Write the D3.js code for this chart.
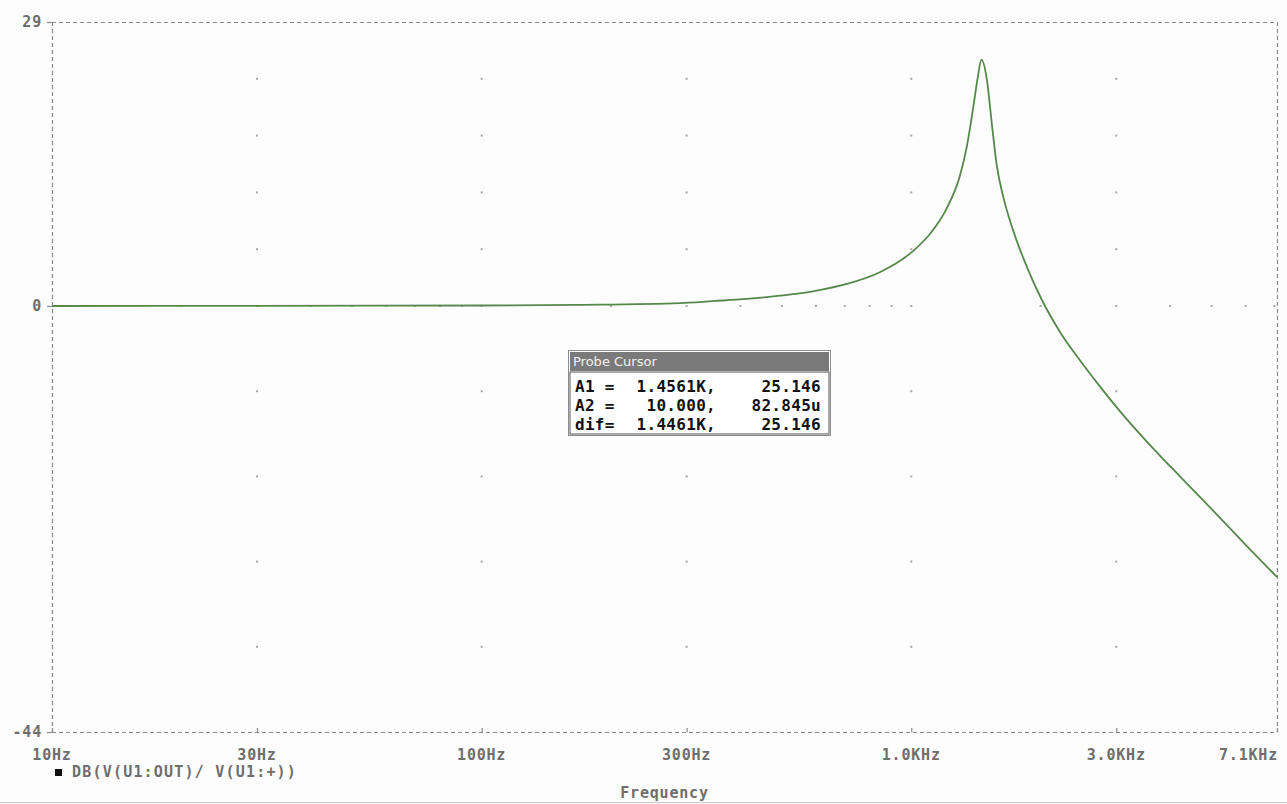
<!DOCTYPE html>
<html>
<head>
<meta charset="utf-8">
<script src="https://cdn.jsdelivr.net/npm/d3@7"></script>
<style>
  body { margin: 0; background: #fdfdfd; }
  svg { display: block; }
</style>
</head>
<body>
<svg id="chart" width="1287" height="804"></svg>
<script>
// trace values
const freqHz = [10, 30, 100, 170, 290, 345, 414, 495, 590, 708, 845, 1009, 1105, 1210, 1298,
  1347, 1391, 1429, 1456, 1500, 1540, 1582, 1634, 1724, 1858, 2014, 2217,
  2469, 2748, 3058, 3534, 4219, 5034, 6040, 7100];
const gainDb = [0, 0.02, 0.05, 0.12, 0.3, 0.5, 0.72, 1.05, 1.5, 2.25, 3.45, 5.6, 7.35, 10.0, 13.3,
  16.3, 20.0, 23.4, 25.146, 23.1, 18.6, 14.3, 11.3, 7.8, 4.0, 0.61, -2.65,
  -5.6, -8.3, -10.85, -14.0, -17.6, -21.1, -24.8, -28.0];

const xTickValues = [10, 30, 100, 300, 1000, 3000, 7100];
const xTickLabels = ['10Hz', '30Hz', '100Hz', '300Hz', '1.0KHz', '3.0KHz', '7.1KHz'];
const yTickValues = [29, 0, -44];
const yTickLabels = ['29', '0', '-44'];
const yGridDb = [23.2, 17.4, 11.6, 5.8, 0, -8.8, -17.6, -26.4, -35.2];
const minorFreqs = [20, 40, 50, 60, 70, 80, 90, 200, 400, 500, 600, 700, 800, 900, 2000, 4000, 5000, 6000, 7000];

const traceName = 'DB(V(U1:OUT)/ V(U1:+))';
const xTitle = 'Frequency';
const cursorTitle = 'Probe Cursor';
const cursorRows = [
  ['A1 =', '1.4561K,', '25.146'],
  ['A2 =', '10.000,', '82.845u'],
  ['dif=', '1.4461K,', '25.146']
];

const plotLeft = 52, plotRight = 1277, plotTop = 22, plotBottom = 732;
const axisGray = '#8a8a8a';
const labelGray = '#6e6e6e';
const traceColor = '#56884c';
const mono = '"DejaVu Sans Mono", "Liberation Mono", monospace';

const svg = d3.select('#chart');

const x = d3.scaleLog()
  .domain([10, 7100])
  .range([plotLeft, plotRight]);

// the plot puts 0 dB a bit off the straight line between the end labels
const y = d3.scaleLinear()
  .domain([-44, 0, 29])
  .range([plotBottom, 306, plotTop]);

svg.append('rect')
  .attr('width', 1287).attr('height', 804)
  .attr('fill', '#fdfdfd');

// grid dots
const dots = svg.append('g').attr('fill', '#a8a8a8');
xTickValues.slice(1, -1).forEach(f => {
  yGridDb.forEach(v => {
    dots.append('rect')
      .attr('x', x(f) - 1).attr('y', y(v) - 1)
      .attr('width', 2).attr('height', 2);
  });
});
minorFreqs.forEach(f => {
  dots.append('rect')
    .attr('x', x(f) - 1).attr('y', y(0) - 1)
    .attr('width', 2).attr('height', 2);
});

// dashed frame
const frame = svg.append('g')
  .attr('stroke', axisGray)
  .attr('stroke-width', 1.2)
  .attr('stroke-dasharray', '4,3')
  .attr('fill', 'none');
frame.append('line').attr('x1', plotLeft).attr('x2', plotRight).attr('y1', plotTop + 0.5).attr('y2', plotTop + 0.5);
frame.append('line').attr('x1', plotLeft).attr('x2', plotRight).attr('y1', plotBottom + 0.5).attr('y2', plotBottom + 0.5);
frame.append('line').attr('x1', plotLeft + 0.5).attr('x2', plotLeft + 0.5).attr('y1', plotTop).attr('y2', plotBottom);
frame.append('line').attr('x1', plotRight + 0.5).attr('x2', plotRight + 0.5).attr('y1', plotTop).attr('y2', plotBottom);

// tick marks
const ticks = svg.append('g').attr('stroke', axisGray).attr('stroke-width', 1.2);
xTickValues.forEach(f => {
  ticks.append('line')
    .attr('x1', x(f) + 0.5).attr('x2', x(f) + 0.5)
    .attr('y1', plotBottom - 4).attr('y2', plotBottom + 0.5);
});
yTickValues.forEach(v => {
  ticks.append('line')
    .attr('x1', plotLeft - 5).attr('x2', plotLeft + 0.5)
    .attr('y1', y(v) + 0.5).attr('y2', y(v) + 0.5);
});

// axis labels
const labels = svg.append('g')
  .attr('font-family', mono)
  .attr('font-weight', 'bold')
  .attr('font-size', '15px')
  .attr('letter-spacing', '0.8px')
  .attr('fill', labelGray);

labels.selectAll('text.xl')
  .data(xTickValues)
  .join('text')
  .attr('class', 'xl')
  .attr('x', (d, i) => i === xTickValues.length - 1 ? x(d) + 1 : x(d))
  .attr('y', 760)
  .attr('text-anchor', (d, i) => i === xTickValues.length - 1 ? 'end' : 'middle')
  .text((d, i) => xTickLabels[i]);

labels.selectAll('text.yl')
  .data(yTickValues)
  .join('text')
  .attr('class', 'yl')
  .attr('x', plotLeft - 10)
  .attr('y', d => y(d) + 5)
  .attr('text-anchor', 'end')
  .text((d, i) => yTickLabels[i]);

labels.append('text')
  .attr('x', (plotLeft + plotRight) / 2)
  .attr('y', 798)
  .attr('text-anchor', 'middle')
  .text(xTitle);

// legend
svg.append('rect')
  .attr('x', 55).attr('y', 769)
  .attr('width', 7).attr('height', 7)
  .attr('fill', '#111');
labels.append('text')
  .attr('x', 72).attr('y', 777)
  .attr('letter-spacing', '1.2px')
  .text(traceName);

// trace
const line = d3.line()
  .x((d, i) => x(freqHz[i]))
  .y(d => y(d))
  .curve(d3.curveMonotoneX);

svg.append('path')
  .datum(gainDb)
  .attr('fill', 'none')
  .attr('stroke', traceColor)
  .attr('stroke-width', 1.8)
  .attr('d', line);

// probe cursor window
const box = svg.append('g').attr('transform', 'translate(568,350)');
box.append('rect')
  .attr('x', 0.5).attr('y', 0.5)
  .attr('width', 262).attr('height', 85)
  .attr('fill', '#ffffff')
  .attr('stroke', '#8c8c8c');
box.append('rect')
  .attr('x', 2).attr('y', 2)
  .attr('width', 259).attr('height', 19)
  .attr('fill', '#7a7a7a');
box.append('text')
  .attr('x', 5).attr('y', 16)
  .attr('font-family', '"DejaVu Sans", sans-serif')
  .attr('font-size', '13px')
  .attr('fill', '#f2f2f2')
  .text(cursorTitle);
box.append('rect')
  .attr('x', 2).attr('y', 22)
  .attr('width', 259).attr('height', 62)
  .attr('fill', 'none')
  .attr('stroke', '#555')
  .attr('stroke-width', 1);

const rows = box.append('g')
  .attr('font-family', mono)
  .attr('font-weight', 'bold')
  .attr('font-size', '16px')
  .attr('letter-spacing', '0.3px')
  .attr('fill', '#111');
cursorRows.forEach((r, i) => {
  const by = 42 + i * 19;
  rows.append('text').attr('x', 7).attr('y', by).text(r[0]);
  rows.append('text').attr('x', 148).attr('y', by).attr('text-anchor', 'end').text(r[1]);
  rows.append('text').attr('x', 253).attr('y', by).attr('text-anchor', 'end').text(r[2]);
});

// window edge at the bottom
svg.append('line')
  .attr('x1', 0).attr('x2', 1287)
  .attr('y1', 802.5).attr('y2', 802.5)
  .attr('stroke', '#c8c8c8');
</script>
</body>
</html>
